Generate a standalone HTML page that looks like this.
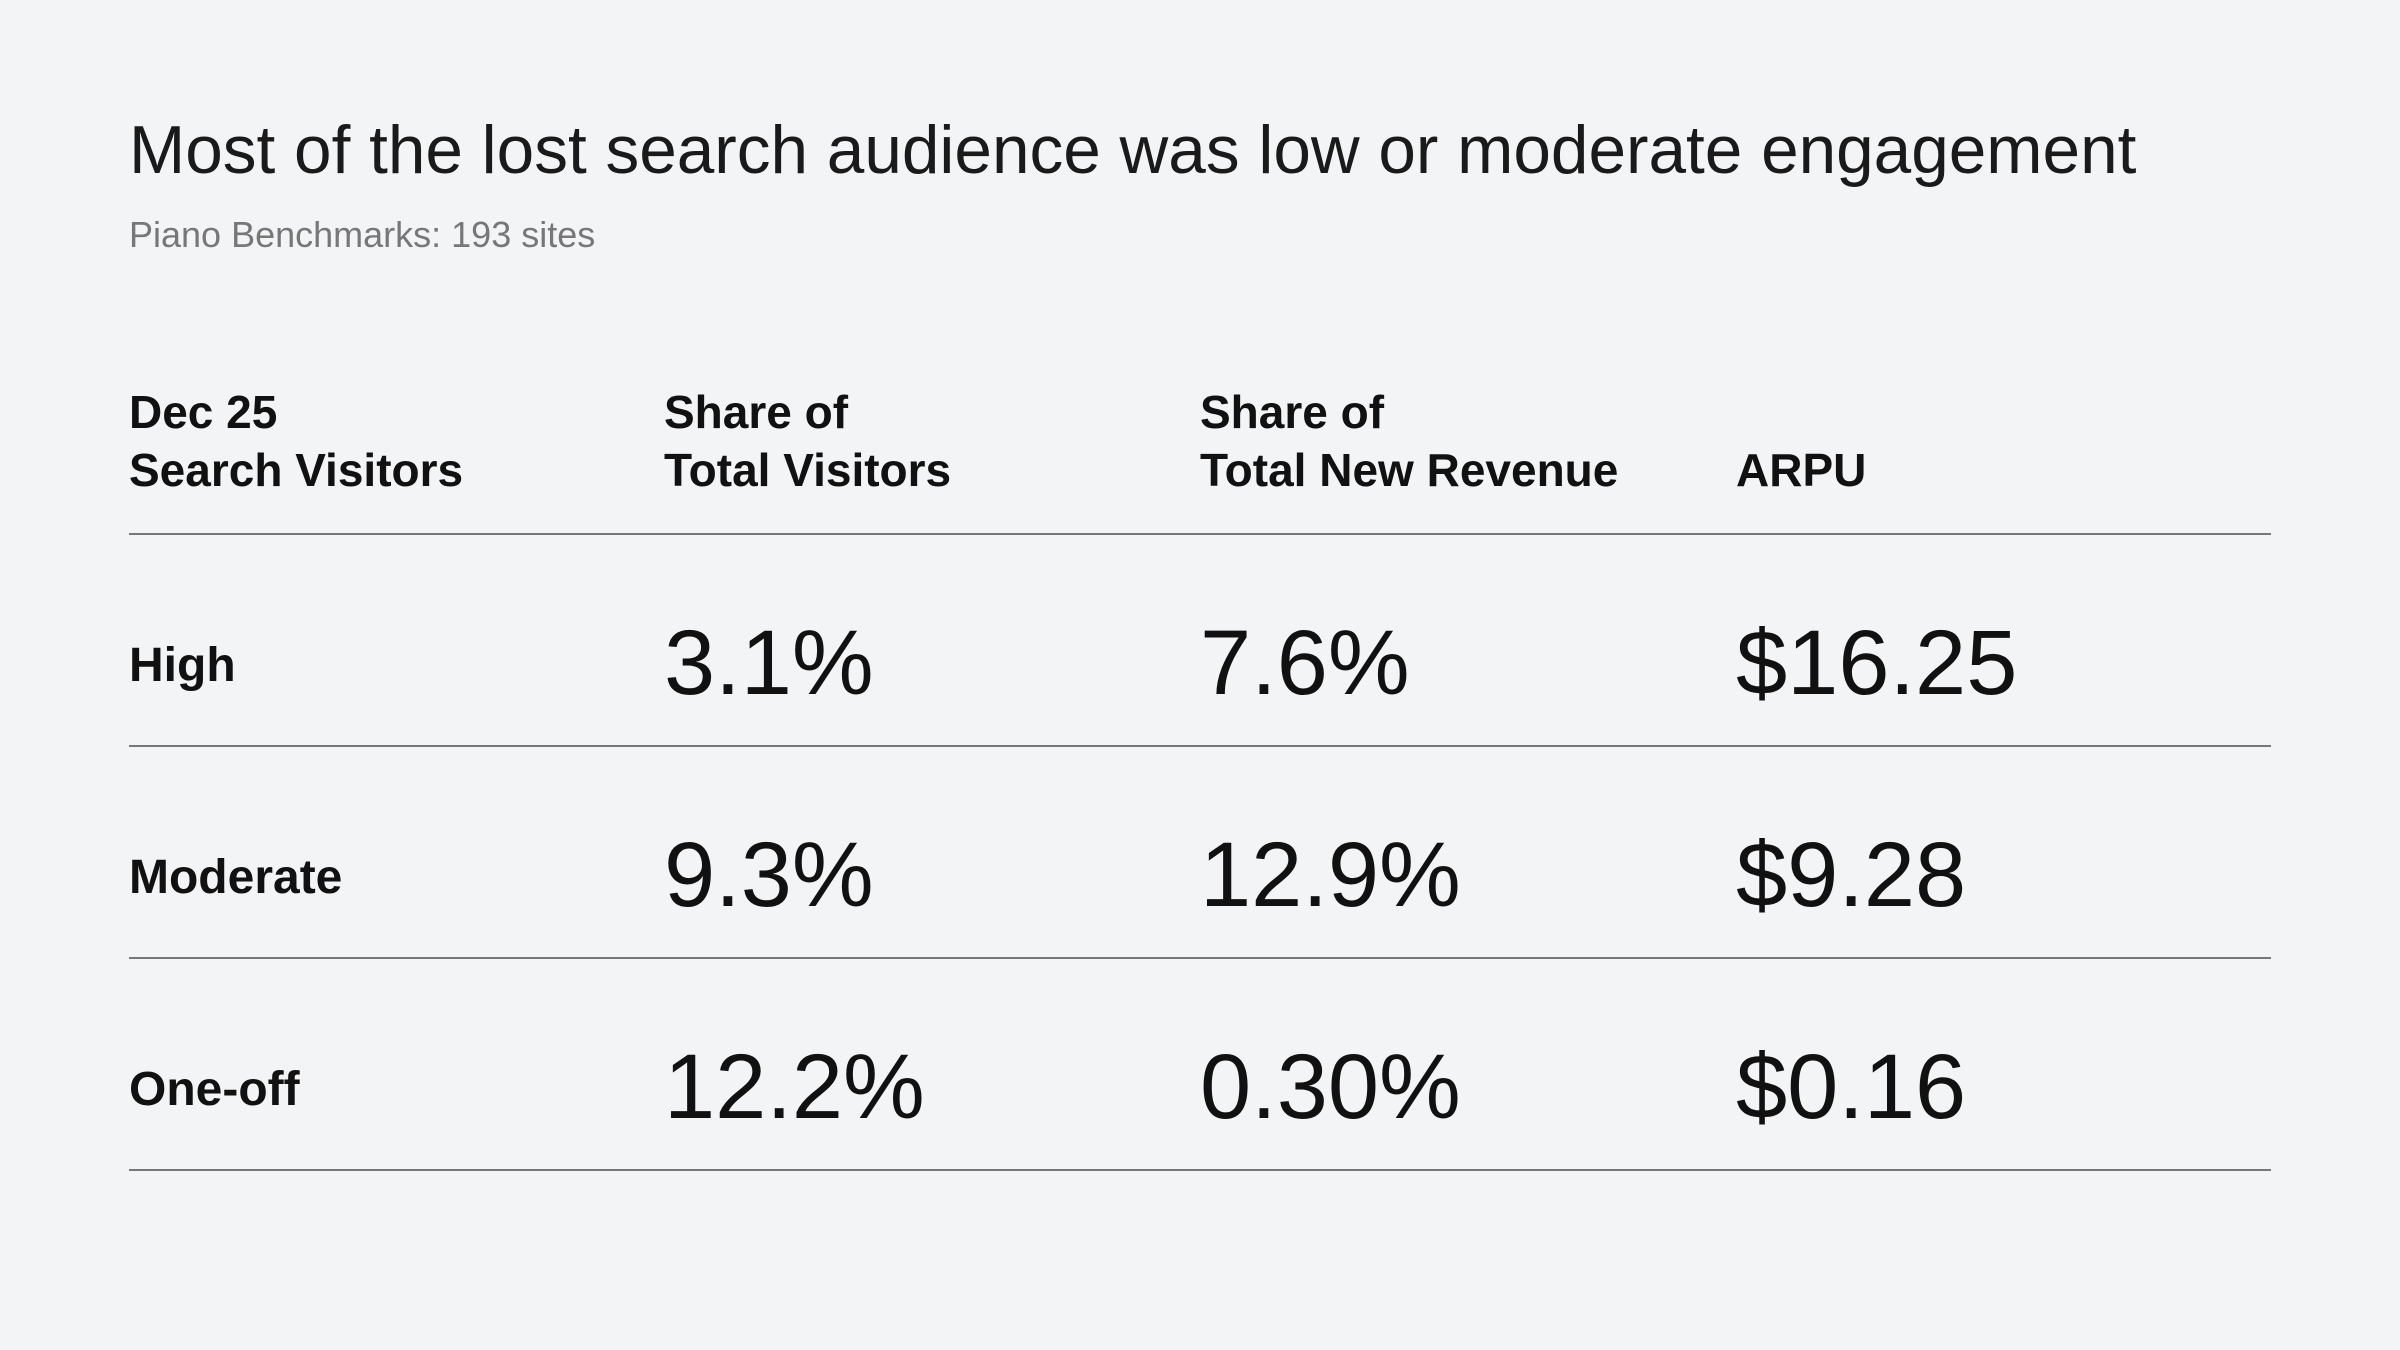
<!DOCTYPE html>
<html><head><meta charset="utf-8">
<style>
html,body{margin:0;padding:0;}
body{width:2400px;height:1350px;background:#f3f4f6;position:relative;overflow:hidden;font-family:"Liberation Sans",sans-serif;color:#111;}
.abs{position:absolute;white-space:nowrap;}
#title{left:129px;top:113px;font-size:67.5px;line-height:76px;color:#1a1a1a;}
#subtitle{left:129px;top:215px;font-size:36px;line-height:40px;color:#777;}
.hdr{font-size:46px;font-weight:bold;line-height:58px;top:383px;}
.rule{position:absolute;left:129px;width:2142px;height:2px;background:#777;}
.lbl{font-size:48px;font-weight:bold;line-height:60px;}
.val{font-size:92px;line-height:110px;}
</style></head>
<body>
<div id="title" class="abs">Most of the lost search audience was low or moderate engagement</div>
<div id="subtitle" class="abs">Piano Benchmarks: 193 sites</div>
<div class="abs hdr" style="left:129px">Dec 25<br>Search Visitors</div>
<div class="abs hdr" style="left:664px">Share of<br>Total Visitors</div>
<div class="abs hdr" style="left:1200px">Share of<br>Total New Revenue</div>
<div class="abs hdr" style="left:1736px;top:441px">ARPU</div>
<div class="rule" style="top:533px"></div>
<div id="rows"></div>
<script>
const segments = ["High", "Moderate", "One-off"];
const shareVisitors = ["3.1%", "9.3%", "12.2%"];
const shareRevenue = ["7.6%", "12.9%", "0.30%"];
const arpu = ["$16.25", "$9.28", "$0.16"];
const root = document.getElementById('rows');
const rowTop = 534, rowH = 212;
const cols = [664, 1200, 1736];
segments.forEach((s, i) => {
  const cy = rowTop + rowH * i + rowH / 2 + 26;
  const l = document.createElement('div');
  l.className = 'abs lbl';
  l.style.left = '129px';
  l.style.top = (cy - 30) + 'px';
  l.textContent = s;
  
  
  root.appendChild(l);
  [shareVisitors[i], shareRevenue[i], arpu[i]].forEach((v, j) => {
    const d = document.createElement('div');
    d.className = 'abs val';
    d.style.left = cols[j] + 'px';
    d.style.top = (cy - 58) + 'px';
    d.textContent = v;
    
    
    root.appendChild(d);
  });
  const r = document.createElement('div');
  r.className = 'rule';
  r.style.top = (rowTop + rowH * (i + 1) - 1) + 'px';
  
  
  root.appendChild(r);
});
</script>
</body></html>
